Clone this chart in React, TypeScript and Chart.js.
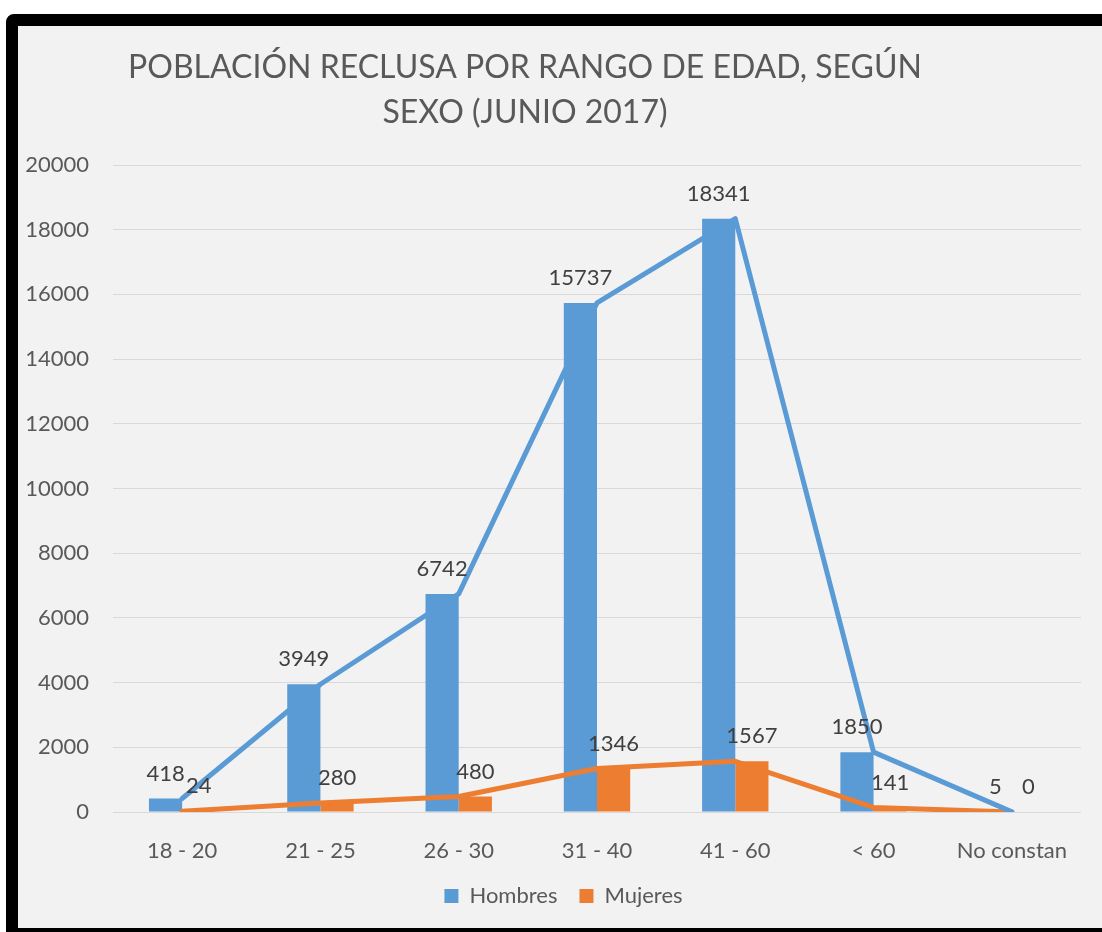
import React, { useEffect, useRef } from "react";
import { Chart, registerables } from "chart.js";

Chart.register(...registerables);

const categories = ["18 - 20", "21 - 25", "26 - 30", "31 - 40", "41 - 60", "< 60", "No constan"];
const hombres = [418, 3949, 6742, 15737, 18341, 1850, 5];
const mujeres = [24, 280, 480, 1346, 1567, 141, 0];
const titleLines = ["POBLACIÓN RECLUSA POR RANGO DE EDAD, SEGÚN", "SEXO (JUNIO 2017)"];

const BLUE = "#5b9bd5";
const ORANGE = "#ed7d31";
const FONT = "Lato";

const titlePlugin = {
  id: "customTitle",
  afterDraw(chart: any) {
    const ctx = chart.ctx;
    ctx.save();
    ctx.font = `32px ${FONT}`;
    ctx.fillStyle = "#595959";
    ctx.textAlign = "center";
    ctx.textBaseline = "alphabetic";
    ctx.fillText(titleLines[0], 507, 52);
    ctx.fillText(titleLines[1], 507, 97);
    ctx.restore();
  },
};

const legendShiftPlugin = {
  id: "legendShift",
  afterLayout(chart: any) {
    if (chart.legend) {
      chart.legend.left += 14;
      chart.legend.right += 14;
    }
  },
};

const labelPlugin = {
  id: "barLabels",
  afterDatasetsDraw(chart: any) {
    const ctx = chart.ctx;
    ctx.save();
    ctx.font = `22px ${FONT}`;
    ctx.fillStyle = "#404040";
    ctx.textAlign = "center";
    ctx.textBaseline = "middle";
    chart.data.datasets.forEach((ds: any, i: number) => {
      if (ds.type !== "bar") return;
      const meta = chart.getDatasetMeta(i);
      meta.data.forEach((el: any, j: number) => {
        ctx.fillText(String(ds.data[j]), el.x, el.y - 25);
      });
    });
    ctx.restore();
  },
};

export default function App() {
  const ref = useRef<HTMLCanvasElement>(null);
  useEffect(() => {
    if (!ref.current) return;
    const chart = new Chart(ref.current, {
      type: "bar",
      data: {
        labels: categories,
        datasets: [
          {
            type: "bar",
            label: "Hombres",
            data: hombres,
            backgroundColor: BLUE,
            order: 1,
          },
          {
            type: "bar",
            label: "Mujeres",
            data: mujeres,
            backgroundColor: ORANGE,
            order: 1,
          },
          {
            type: "line",
            label: "Hombres línea",
            data: hombres,
            borderColor: BLUE,
            backgroundColor: BLUE,
            borderWidth: 5,
            pointRadius: 0,
            tension: 0,
            borderJoinStyle: "round",
            borderCapStyle: "round",
            order: 0,
          },
          {
            type: "line",
            label: "Mujeres línea",
            data: mujeres,
            borderColor: ORANGE,
            backgroundColor: ORANGE,
            borderWidth: 5,
            pointRadius: 0,
            tension: 0,
            borderJoinStyle: "round",
            borderCapStyle: "round",
            order: 0,
          },
        ] as any,
      },
      options: {
        animation: false,
        responsive: false,
        datasets: {
          bar: { barPercentage: 1, categoryPercentage: 0.48 },
        } as any,
        layout: { padding: { top: 139, right: 21, bottom: 11, left: 0 } },
        plugins: {
          title: { display: false },
          tooltip: { enabled: false },
          legend: {
            position: "bottom",
            labels: {
              boxWidth: 14,
              boxHeight: 14,
              padding: 22,
              color: "#595959",
              font: { family: FONT, size: 22 },
              filter: (item: any) => item.datasetIndex < 2,
            },
          },
        },
        scales: {
          x: {
            grid: { display: false },
            border: { display: false },
            ticks: { color: "#595959", font: { family: FONT, size: 22 }, padding: 18, maxRotation: 0 },
            afterFit: (scale: any) => {
              scale.height = 51;
            },
          },
          y: {
            min: 0,
            max: 20000,
            grid: { color: "#d9d9d9", lineWidth: 1, drawTicks: false },
            border: { display: false },
            ticks: {
              stepSize: 2000,
              color: "#595959",
              font: { family: FONT, size: 22 },
              padding: 24,
              callback: (v: any) => String(v),
            },
            afterFit: (scale: any) => {
              scale.width = 95;
            },
          },
        },
      },
      plugins: [titlePlugin, labelPlugin, legendShiftPlugin],
    });
    return () => chart.destroy();
  }, []);

  return (
    <div
      style={{
        position: "fixed",
        left: 6,
        top: 14,
        width: 1120,
        height: 902,
        border: "12px solid #000",
        borderRadius: 8,
        background: "#f2f2f2",
        overflow: "hidden",
      }}
    >
      <canvas ref={ref} width={1084} height={902} style={{ display: "block" }} />
    </div>
  );
}
